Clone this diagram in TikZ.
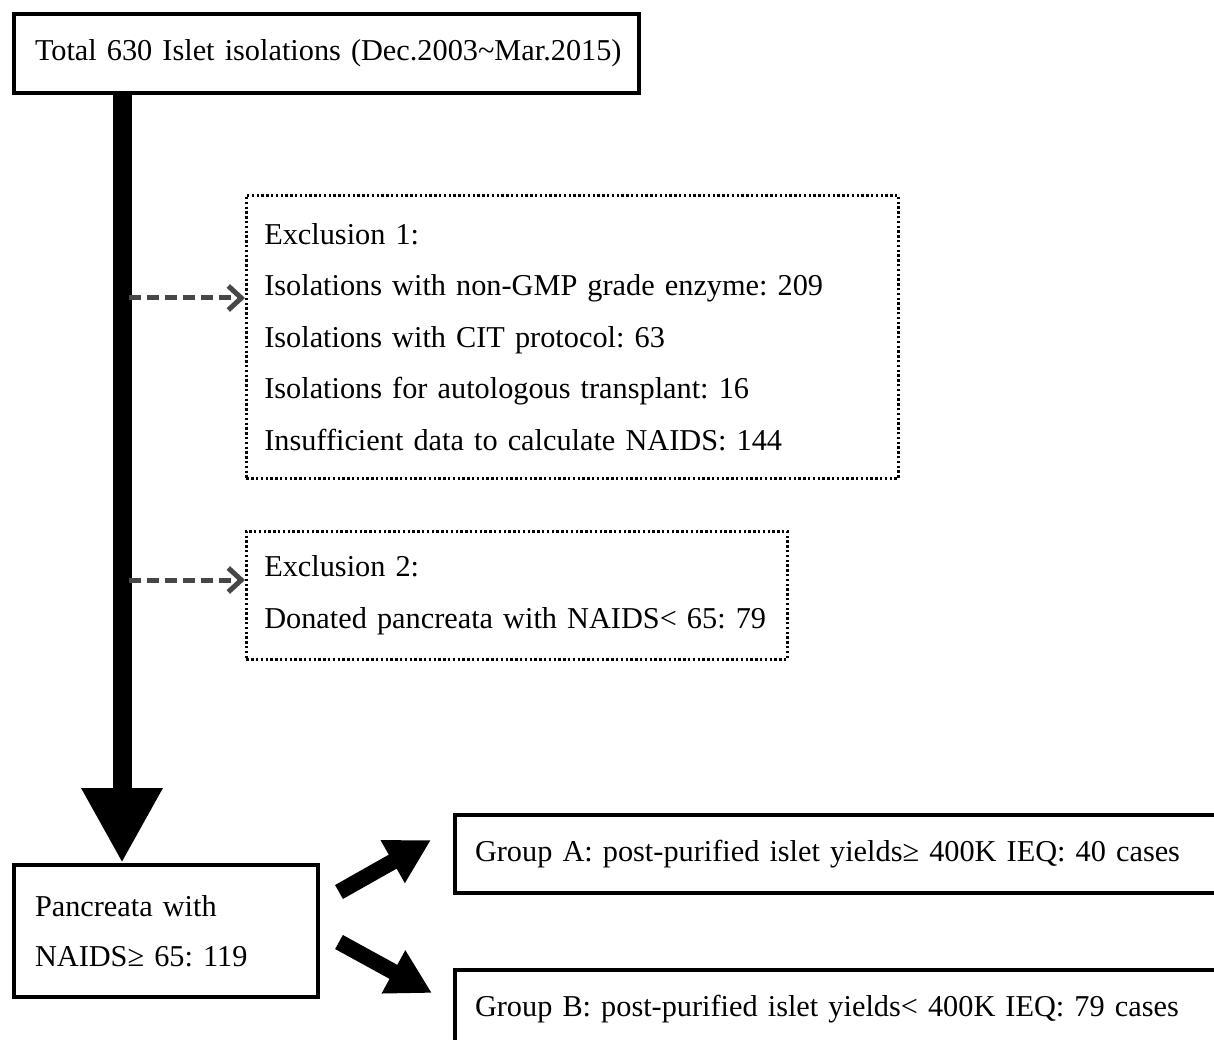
\documentclass[tikz,border=0pt]{standalone}
\usepackage{fontspec}
\setmainfont{Liberation Serif}
\frenchspacing
\usetikzlibrary{arrows.meta}
\newcommand{\padl}[1]{\hspace*{#1}}
\tikzset{
  solidbox/.style={draw=black, line width=4pt, rectangle, anchor=north west, align=left, inner sep=0pt,
    font=\fontsize{30.3}{50}\selectfont\frenchspacing},
  dotbox/.style={draw=black, line width=2.6pt, dash pattern=on 2.4pt off 2.4pt, rectangle, anchor=north west, align=left, inner sep=0pt,
    font=\fontsize{30.3}{51.5}\selectfont\frenchspacing},
  bigarrow/.style={line width=19pt, -{Triangle[length=75pt,width=76pt]}},
  diagarrow/.style={line width=16pt, -{Triangle[length=44pt,width=46pt]}},
  dasharrow/.style={draw=black!72, line width=5pt, dash pattern=on 12pt off 6pt, -{Straight Barb[length=13pt,width=24pt]}},
}
\begin{document}
\begin{tikzpicture}[x=1pt,y=-1pt]
\useasboundingbox (0,0) rectangle (1214,1040);
\clip (0,0) rectangle (1214,1040);
\fill[white] (0,0) rectangle (1214,1040);

\node[solidbox, minimum width=625pt, minimum height=79pt, text width=625pt] (top) at (12,12)
  {\padl{21pt}Total 630 Islet isolations (Dec.2003\textasciitilde Mar.2015)};

\node[dotbox, minimum width=652pt, minimum height=283pt, text width=652pt] (ex1) at (245,194)
  {\padl{18pt}Exclusion 1:\\
   \padl{18pt}Isolations with non-GMP grade enzyme: 209\\
   \padl{18pt}Isolations with CIT protocol: 63\\
   \padl{18pt}Isolations for autologous transplant: 16\\
   \padl{18pt}Insufficient data to calculate NAIDS: 144};

\node[dotbox, minimum width=541pt, minimum height=128pt, text width=541pt] (ex2) at (245,530)
  {\padl{18pt}Exclusion 2:\\
   \padl{18pt}Donated pancreata with NAIDS< 65: 79};

\node[solidbox, minimum width=304pt, minimum height=132pt, text width=304pt] (pan) at (12,863)
  {\padl{21pt}Pancreata with\\ \padl{21pt}NAIDS≥ 65: 119};

\node[solidbox, minimum width=860pt, minimum height=78pt, text width=860pt] (ga) at (453,813)
  {\padl{20pt}Group A: post-purified islet yields≥ 400K IEQ: 40 cases};

\node[solidbox, minimum width=860pt, minimum height=78pt, text width=860pt] (gb) at (453,968)
  {\padl{20pt}Group B: post-purified islet yields< 400K IEQ: 79 cases};

\coordinate (shaft) at (122,0);
\draw[bigarrow] (top.south -| shaft) -- (pan.north -| shaft);

\coordinate (d1) at (129,298);
\coordinate (d2) at (129,580);
\draw[dasharrow] (d1) -- (d1 -| ex1.west);
\draw[dasharrow] (d2) -- (d2 -| ex2.west);

\coordinate (a1s) at (339,892);
\coordinate (a1e) at (431,840);
\coordinate (a2s) at (339,942);
\coordinate (a2e) at (432,993);
\draw[diagarrow] (a1s) -- (a1e);
\draw[diagarrow] (a2s) -- (a2e);
\end{tikzpicture}
\end{document}
